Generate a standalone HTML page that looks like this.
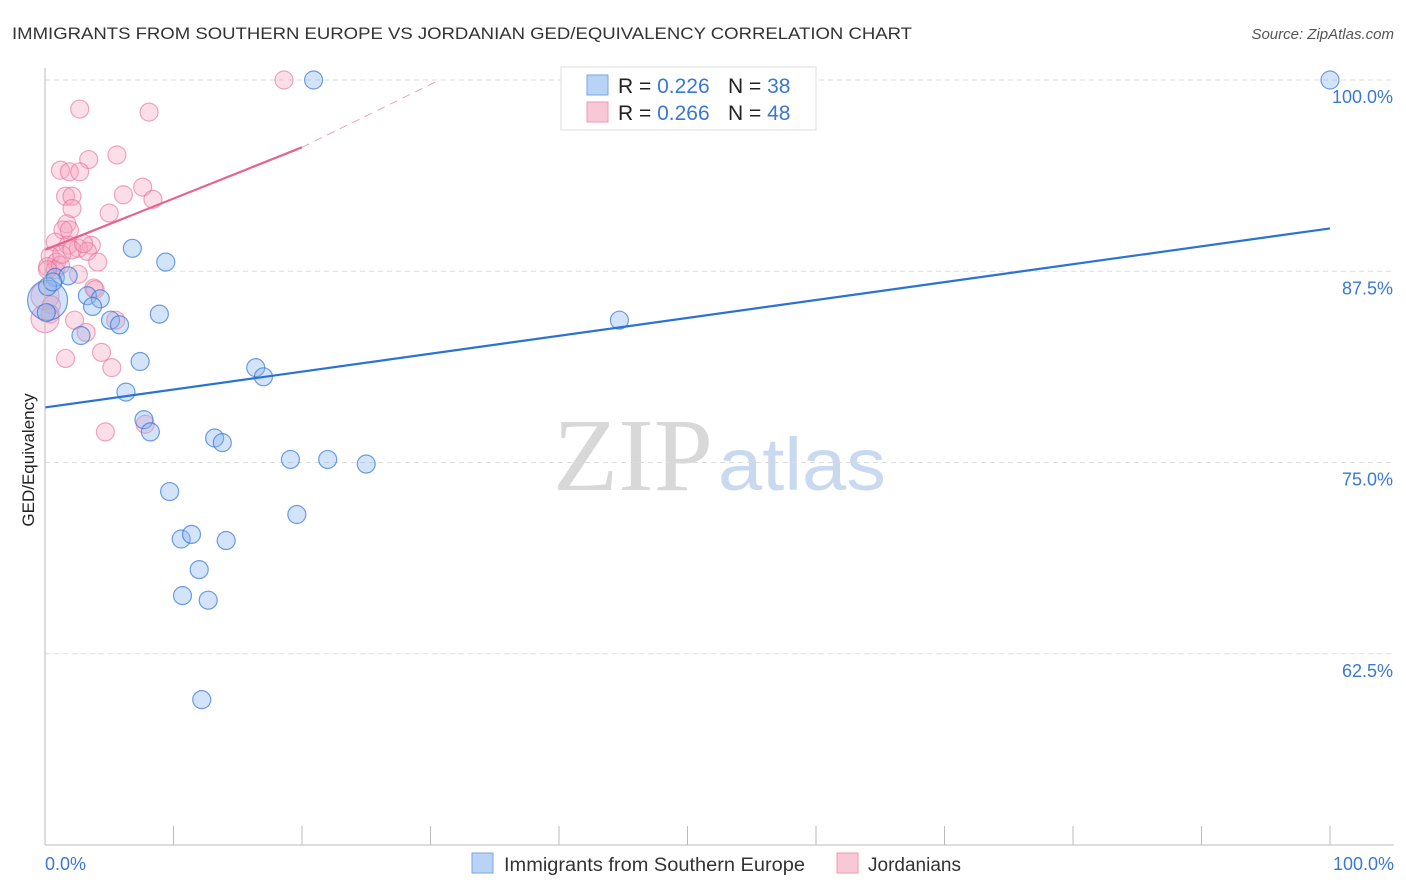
<!DOCTYPE html>
<html><head><meta charset="utf-8"><style>
body{margin:0;background:#fff;font-family:"Liberation Sans",sans-serif;}
#wrap{position:relative;width:1406px;height:892px;overflow:hidden;}
</style></head><body>
<div id="wrap">
<svg id="svg" width="1406" height="892" xmlns="http://www.w3.org/2000/svg">
<text x="12" y="39" font-size="17" fill="#333" textLength="900" lengthAdjust="spacingAndGlyphs">IMMIGRANTS FROM SOUTHERN EUROPE VS JORDANIAN GED/EQUIVALENCY CORRELATION CHART</text>
<text x="1394" y="39" font-size="15" fill="#555" font-style="italic" text-anchor="end">Source: ZipAtlas.com</text>
<text x="34" y="460" font-size="17" fill="#222" text-anchor="middle" transform="rotate(-90 34 460)">GED/Equivalency</text>
<text x="553" y="490" font-size="104" fill="#d8d8d8" font-family="Liberation Serif,serif" textLength="160" lengthAdjust="spacingAndGlyphs">ZIP</text>
<text x="718" y="490" font-size="74" fill="#c9d9f0" textLength="168" lengthAdjust="spacingAndGlyphs">atlas</text>
<g id="grid"></g><g id="pts"></g><g id="lines"></g>
<line x1="45" y1="68" x2="45" y2="845" stroke="#bbb"/>
<line x1="45" y1="845" x2="1394" y2="845" stroke="#bbb"/>
<text x="45" y="870" font-size="18" fill="#3a78d4">0.0%</text>
<text x="1394" y="870" font-size="18" fill="#3a78d4" text-anchor="end">100.0%</text>
<g>
<rect x="561" y="67" width="255" height="63" fill="#fff" stroke="#ddd"/>
<rect x="587" y="75" width="21" height="20" fill="#b8d3f5" stroke="#7aa6e0"/>
<rect x="587" y="102" width="21" height="20" fill="#f8c8d6" stroke="#ee9ab4"/>
<text x="618" y="93" font-size="21" fill="#222">R = <tspan fill="#3a78d4">0.226</tspan><tspan x="728">N = </tspan><tspan fill="#3a78d4">38</tspan></text>
<text x="618" y="120" font-size="21" fill="#222">R = <tspan fill="#3a78d4">0.266</tspan><tspan x="728">N = </tspan><tspan fill="#3a78d4">48</tspan></text>
</g>
<g>
<rect x="472" y="853" width="21" height="20" fill="#b8d3f5" stroke="#7aa6e0"/>
<text x="504" y="871" font-size="19" fill="#333" textLength="301" lengthAdjust="spacingAndGlyphs">Immigrants from Southern Europe</text>
<rect x="837" y="853" width="21" height="20" fill="#f8c8d6" stroke="#ee9ab4"/>
<text x="868" y="871" font-size="19" fill="#333">Jordanians</text>
</g>
</svg></div>
<script>
const yTicks=[100,87.5,75,62.5];
const yTickLabels=["100.0%","87.5%","75.0%","62.5%"];
const xTicks=[0,10,20,30,40,50,60,70,80,90,100];
const blueX=[20.9,100,6.8,9.4,0.8,1.8,3.3,4.3,3.7,0.2,8.9,5.1,5.8,2.8,7.4,44.7,16.4,17,6.3,7.7,8.2,13.2,13.8,9.7,19.1,22,25,19.6,10.6,11.4,14.1,12,10.7,12.7,12.2,0.2,0.1,0.6];
const blueY=[100,100,89.0,88.1,87.1,87.2,85.9,85.7,85.2,85.6,84.7,84.3,84.0,83.3,81.6,84.3,81.2,80.6,79.6,77.8,77.0,76.6,76.3,73.1,75.2,75.2,74.9,71.6,70.0,70.3,69.9,68.0,66.3,66.0,59.5,86.5,84.8,86.8];
const blueR=[9,9,9,9,9,9,9,9,9,20,9,9,9,9,9,9,9,9,9,9,9,9,9,9,9,9,9,9,9,9,9,9,9,9,9,9,9,9];
const pinkX=[18.6,2.7,8.1,5.6,3.4,1.2,1.9,2.7,1.6,2.1,2.1,5,6.1,7.6,8.4,1.7,1.4,1.9,0.8,1.8,3.6,2.6,3.3,0.4,0.9,0.2,0.8,1.2,4.1,2.6,0,0.5,0.4,0,3.8,3.9,2.3,3.2,5.5,1.6,4.4,5.2,4.7,7.8,0.2,1.3,2.1,3];
const pinkY=[100,98.1,97.9,95.1,94.8,94.1,94.0,94.0,92.4,92.4,91.6,91.3,92.5,93.0,92.2,90.6,90.2,90.2,89.4,89.2,89.2,89.0,88.8,88.5,88.1,87.8,87.6,87.9,88.1,87.3,85.9,85.3,84.7,84.4,86.4,86.3,84.3,83.5,84.3,81.8,82.2,81.2,77.0,77.5,87.6,88.6,88.9,89.3];
const pinkR=[9,9,9,9,9,9,9,9,9,9,9,9,9,9,9,9,9,9,9,9,9,9,9,9,9,9,9,9,9,9,14,9,9,14,9,9,9,9,9,9,9,9,9,9,9,9,9,9];
const blueLine=[[0,78.6],[100,90.3]];
const pinkLine=[[0,88.9],[20,95.6]];
const pinkDash=[[20,95.6],[30.7,100]];
const X=v=>45+v*12.85, Y=v=>80+(100-v)*15.3;
const NS="http://www.w3.org/2000/svg";
function mk(t,a,p){const e=document.createElementNS(NS,t);for(const k in a)e.setAttribute(k,a[k]);p.appendChild(e);return e;}
const grid=document.getElementById('grid');
yTicks.forEach((v,i)=>{
 const l=mk('line',{x1:45,x2:1394,y1:Y(v),y2:Y(v),stroke:'#ddd','stroke-dasharray':'5,4'},grid);
 
 
 const t=mk('text',{x:1393,y:Y(v)+23,'font-size':18,fill:'#3a78d4','text-anchor':'end'},grid);
 t.textContent=yTickLabels[i];
 
 
});
xTicks.forEach(v=>{
 const l=mk('line',{x1:X(v),x2:X(v),y1:826,y2:845,stroke:'#bbb'},grid);
 
 
});
const pts=document.getElementById('pts');
pinkX.forEach((v,i)=>{
 const c=mk('circle',{cx:X(v),cy:Y(pinkY[i]),r:pinkR[i],fill:'rgba(245,160,188,0.35)',stroke:'rgba(232,110,150,0.6)','stroke-width':1.2},pts);
 
 
});
blueX.forEach((v,i)=>{
 const c=mk('circle',{cx:X(v),cy:Y(blueY[i]),r:blueR[i],fill:'rgba(140,182,238,0.38)',stroke:'rgba(50,120,215,0.7)','stroke-width':1.2},pts);
 
 
});
const lines=document.getElementById('lines');
let l=mk('line',{x1:X(blueLine[0][0]),y1:Y(blueLine[0][1]),x2:X(blueLine[1][0]),y2:Y(blueLine[1][1]),stroke:'#2a72d6','stroke-width':2.2},lines);


l=mk('line',{x1:X(pinkLine[0][0]),y1:Y(pinkLine[0][1]),x2:X(pinkLine[1][0]),y2:Y(pinkLine[1][1]),stroke:'#e8628f','stroke-width':2.2},lines);


l=mk('line',{x1:X(pinkDash[0][0]),y1:Y(pinkDash[0][1]),x2:X(pinkDash[1][0]),y2:Y(pinkDash[1][1]),stroke:'#f0a0bb','stroke-width':1,'stroke-dasharray':'8,6'},lines);


</script>
</body></html>
